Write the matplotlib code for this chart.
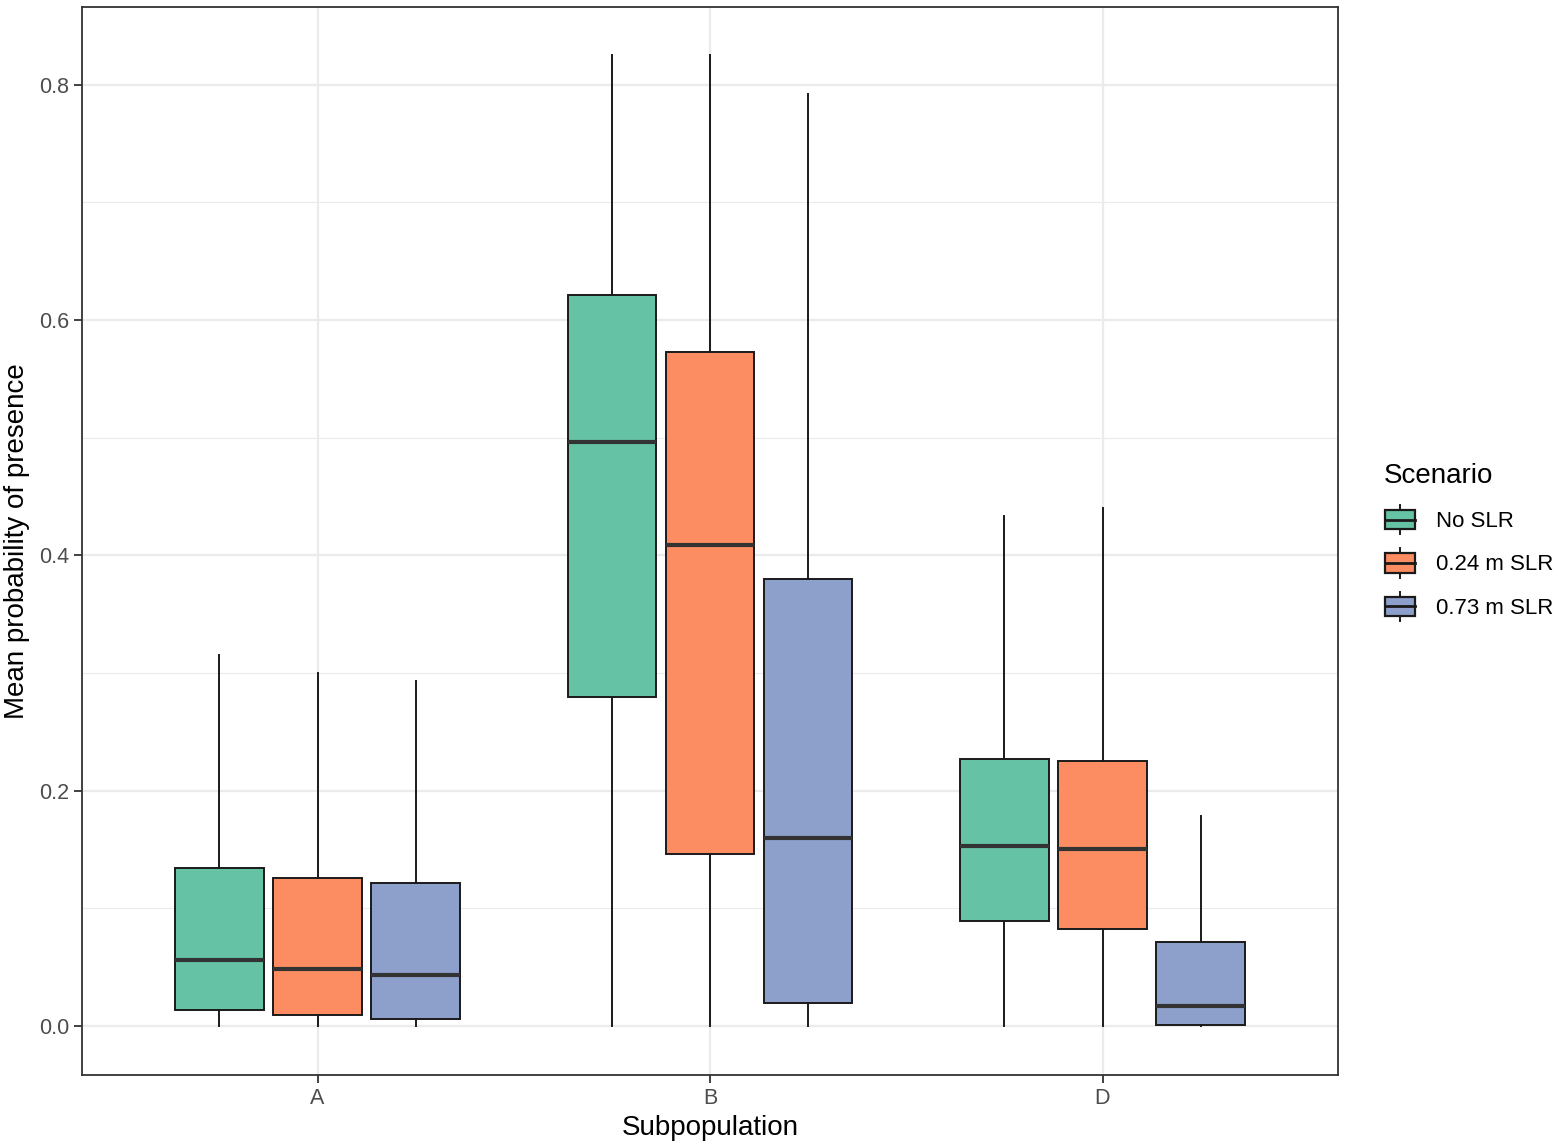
import matplotlib
matplotlib.use("Agg")
import matplotlib.pyplot as plt
from matplotlib.patches import Rectangle
from matplotlib.lines import Line2D
from matplotlib.legend_handler import HandlerBase

plt.rcParams['font.family'] = ['Liberation Sans', 'DejaVu Sans']

# ---- data ----
subpops = ["A", "B", "D"]
scenarios = ["No SLR", "0.24 m SLR", "0.73 m SLR"]
colors = ["#66C2A5", "#FC8D62", "#8DA0CB"]

# per scenario, per subpopulation: [whislo, q1, med, q3, whishi]
no_slr  = [[0.0, 0.0136, 0.056, 0.134, 0.315],
           [0.0, 0.2797, 0.4965, 0.6215, 0.8255],
           [0.0, 0.0893, 0.153, 0.227, 0.4336]]
slr_024 = [[0.0, 0.0094, 0.0485, 0.126, 0.300],
           [0.0, 0.146, 0.409, 0.573, 0.8255],
           [0.0, 0.0825, 0.1505, 0.2253, 0.440]]
slr_073 = [[0.0, 0.006, 0.0434, 0.1216, 0.293],
           [0.0, 0.0196, 0.160, 0.380, 0.792],
           [0.0, 0.0009, 0.017, 0.0714, 0.1785]]
series = [no_slr, slr_024, slr_073]

W, H = 1559, 1146
fig = plt.figure(figsize=(W / 100, H / 100), dpi=100)
ax = fig.add_axes([82 / W, 1 - 1075 / H, (1338 - 82) / W, (1075 - 7) / H])

dodge = 0.25
bw = 0.225
for si, (vals, col) in enumerate(zip(series, colors)):
    stats = []
    positions = []
    for gi, v in enumerate(vals):
        stats.append(dict(whislo=v[0], q1=v[1], med=v[2], q3=v[3], whishi=v[4], fliers=[]))
        positions.append(gi + 1 + (si - 1) * dodge)
    ax.bxp(stats, positions=positions, widths=bw, patch_artist=True, showcaps=False,
           showfliers=False,
           boxprops=dict(facecolor=col, edgecolor="#1a1a1a", linewidth=1.4),
           medianprops=dict(color="#333333", linewidth=3.0, solid_capstyle='butt'),
           whiskerprops=dict(color="#1a1a1a", linewidth=1.4),
           zorder=3)

ax.set_xlim(0.4, 3.6)
ax.set_ylim(-0.0417, 0.866)
ax.set_xticks([1, 2, 3])
ax.set_xticklabels(subpops)
ax.set_yticks([0.0, 0.2, 0.4, 0.6, 0.8])
ax.set_yticklabels(["0.0", "0.2", "0.4", "0.6", "0.8"])
ax.set_yticks([0.1, 0.3, 0.5, 0.7], minor=True)
ax.tick_params(axis='both', which='major', labelsize=15.5, colors="#333333",
               labelcolor="#4D4D4D", length=5.5, width=1.3, pad=3.5)
ax.tick_params(axis='y', which='minor', length=0)
ax.grid(True, which='major', color="#EBEBEB", linewidth=1.6, zorder=0)
ax.grid(True, which='minor', axis='y', color="#EBEBEB", linewidth=0.8, zorder=0)
ax.set_axisbelow(True)
for sp in ax.spines.values():
    sp.set_color("#333333")
    sp.set_linewidth(1.3)

ax.set_xlabel("Subpopulation", fontsize=20, labelpad=5)
ax.set_ylabel("Mean probability of presence", fontsize=20, labelpad=7)


class BoxHandler(HandlerBase):
    def __init__(self, color):
        super().__init__()
        self.color = color

    def create_artists(self, legend, orig_handle, xdescent, ydescent, width, height, fontsize, trans):
        cx = -xdescent + width / 2
        bh = height * 0.8
        by = -ydescent + (height - bh) / 2
        bwid = width * 0.95
        rect = Rectangle((cx - bwid / 2, by), bwid, bh, facecolor=self.color,
                         edgecolor="#1a1a1a", linewidth=1.6, transform=trans)
        med = Line2D([cx - bwid / 2, cx + bwid / 2], [by + bh / 2, by + bh / 2],
                     color="#1a1a1a", linewidth=2.0, transform=trans)
        w1 = Line2D([cx, cx], [by + bh, by + bh + height * 0.2], color="#1a1a1a",
                    linewidth=1.4, transform=trans)
        w2 = Line2D([cx, cx], [by, by - height * 0.2], color="#1a1a1a",
                    linewidth=1.4, transform=trans)
        return [w1, w2, rect, med]


handles = [Rectangle((0, 0), 1, 1) for _ in scenarios]
leg = fig.legend(handles, scenarios, handler_map={h: BoxHandler(c) for h, c in zip(handles, colors)},
                 loc='upper left', bbox_to_anchor=(1364 / W, 1 - 443 / H),
                 frameon=False, fontsize=16, title="Scenario", title_fontsize=20,
                 handlelength=1.45, handleheight=1.3, labelspacing=0.84, handletextpad=0.9)
leg._legend_box.align = "left"

fig.savefig("out.png", dpi=100, facecolor="white")
